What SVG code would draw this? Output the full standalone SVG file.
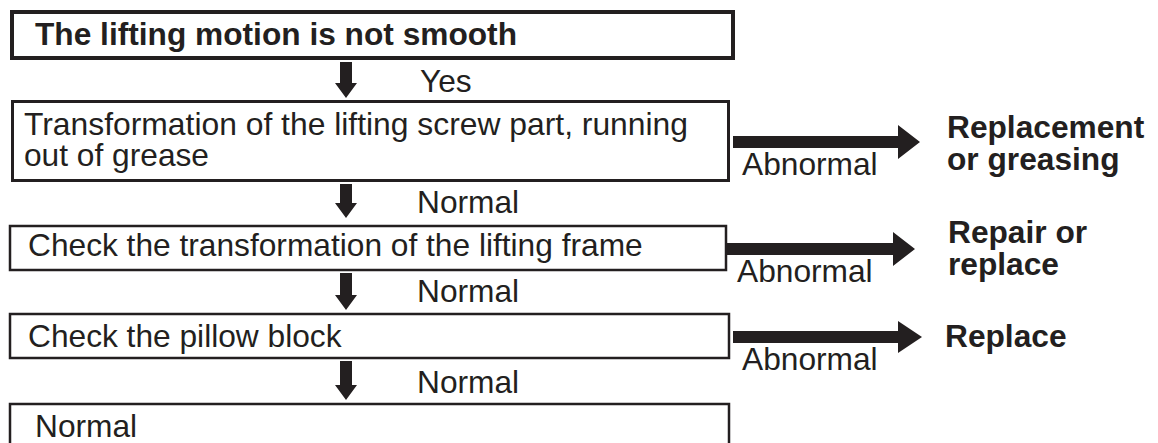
<svg xmlns="http://www.w3.org/2000/svg" width="1158" height="443" viewBox="0 0 1158 443">
<style>
.box{fill:#fff;stroke:#231f20}
.t{font-family:"Liberation Sans",Arial,sans-serif;font-size:31.7px;fill:#231f20}
.b{font-weight:bold}
.arr{fill:#231f20}
</style>
<rect width="1158" height="443" fill="#fff"/>
<g id="n1"><rect class="box" x="12" y="12" width="721" height="46" stroke-width="4"/><text class="t b" x="35" y="45" textLength="482" lengthAdjust="spacingAndGlyphs">The lifting motion is not smooth</text></g>
<g id="n2"><rect class="box" x="12.5" y="101.5" width="716" height="79" stroke-width="3"/><text class="t" x="24" y="135" textLength="664" lengthAdjust="spacingAndGlyphs">Transformation of the lifting screw part, running</text><text class="t" x="24" y="166">out of grease</text></g>
<g id="n3"><rect class="box" x="10" y="226" width="716" height="44" stroke-width="2.5"/><text class="t" x="28" y="256">Check the transformation of the lifting frame</text></g>
<g id="n4"><rect class="box" x="10" y="314" width="719" height="44" stroke-width="2.5"/><text class="t" x="28" y="347">Check the pillow block</text></g>
<g id="n5"><rect class="box" x="10" y="404" width="719" height="50" stroke-width="2.5"/><text class="t" x="35" y="437">Normal</text></g>
<g id="r1"><text class="t b" x="947" y="138">Replacement</text><text class="t b" x="947" y="170">or greasing</text></g>
<g id="r2"><text class="t b" x="948" y="243">Repair or</text><text class="t b" x="948" y="275">replace</text></g>
<g id="r3"><text class="t b" x="945" y="347">Replace</text></g>
<g id="connectors">
<polygon class="arr" points="340,62 352,62 352,83 357,83 346,98 335,83 340,83"/>
<polygon class="arr" points="340,184 352,184 352,203 357,203 346,218 335,203 340,203"/>
<polygon class="arr" points="340,273 352,273 352,295 357,295 346,310 335,295 340,295"/>
<polygon class="arr" points="340,361 352,361 352,385 357,385 346,400 335,385 340,385"/>
<polygon class="arr" points="733,136 898,136 898,125 920,142 898,159 898,148 733,148"/>
<polygon class="arr" points="727,243 893,243 893,232 915,249 893,266 893,255 727,255"/>
<polygon class="arr" points="733,331 898,331 898,321 922,337 898,353 898,343 733,343"/>
<text class="t" x="420" y="92">Yes</text>
<text class="t" x="417" y="213">Normal</text>
<text class="t" x="417" y="302">Normal</text>
<text class="t" x="417" y="393">Normal</text>
<text class="t" x="742" y="175">Abnormal</text>
<text class="t" x="737" y="282">Abnormal</text>
<text class="t" x="742" y="370">Abnormal</text>
</g>
</svg>
